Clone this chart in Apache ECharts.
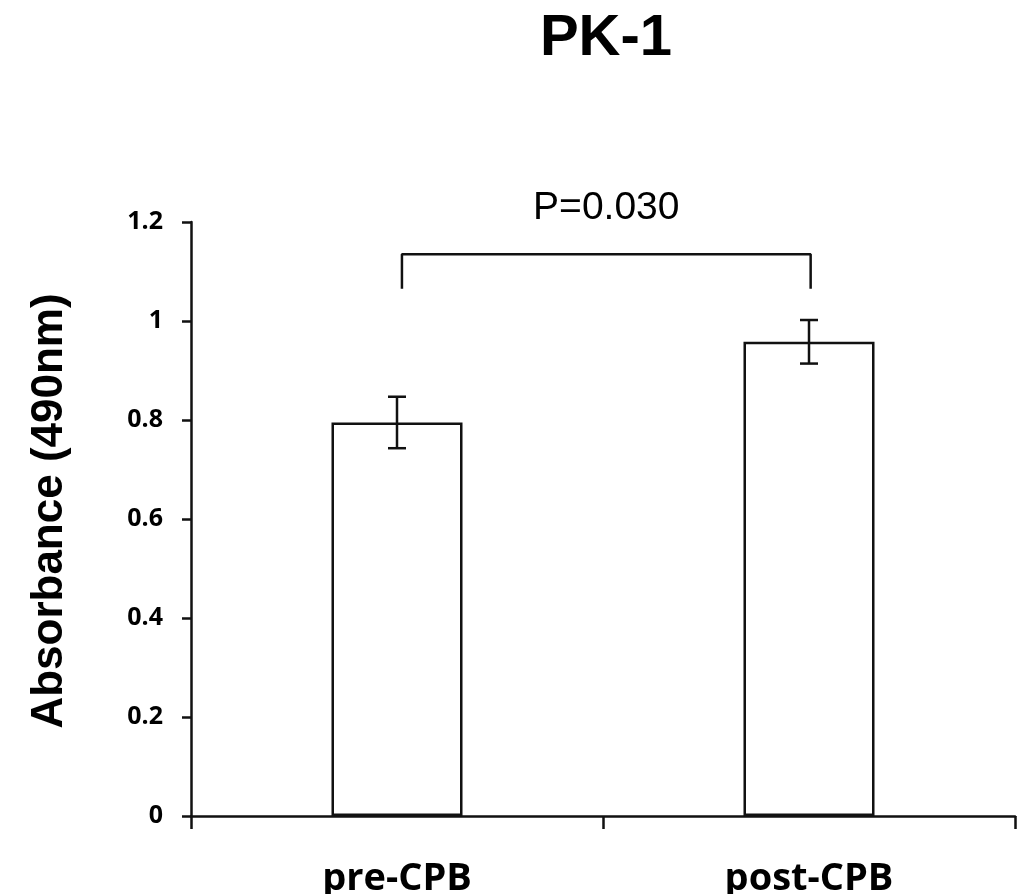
<!DOCTYPE html>
<html>
<head>
<meta charset="utf-8">
<script src="https://cdn.jsdelivr.net/npm/echarts@6/dist/echarts.min.js"></script>
<style>
  html, body { margin: 0; padding: 0; background: #fff; }
  #chart { width: 1030px; height: 894px; }
</style>
</head>
<body>
<div id="chart"></div>
<script>
// data
const categories = ['pre-CPB', 'post-CPB'];
const means = [0.795, 0.958];
const errors = [0.052, 0.044];
const yTicks = [0, 0.2, 0.4, 0.6, 0.8, 1, 1.2];
// significance bracket: [x (category index), y]
const bracketPoints = [[0.012, 1.065], [0.012, 1.135], [1.004, 1.135], [1.004, 1.065]];
const pLabel = 'P=0.030';

const ink = '#111';
const labelFont = '"Open Sans", "Liberation Sans", sans-serif';
const arial = '"Liberation Sans", Arial, sans-serif';

let myChart = echarts.init(document.getElementById('chart'));

let option = {
  animation: false,
  backgroundColor: '#fff',
  title: {
    text: 'PK-1',
    left: 601,
    textAlign: 'center',
    top: 5,
    textStyle: { fontFamily: arial, fontWeight: 'bold', fontSize: 58, color: '#000' }
  },
  grid: { left: 191, right: 15, top: 222, bottom: 78, outerBoundsMode: 'none' },
  xAxis: [
    {
      type: 'category',
      data: categories,
      boundaryGap: true,
      axisLine: { onZero: false, lineStyle: { color: ink, width: 2.5 } },
      axisTick: { show: true, alignWithLabel: false, length: 13, lineStyle: { color: ink, width: 2.5 } },
      axisLabel: { margin: 44, fontFamily: labelFont, fontWeight: 'bold', fontSize: 38, color: '#000' }
    },
    {
      // hidden value axis over the same span, used for bracket and text
      type: 'value',
      min: -0.5,
      max: 1.5,
      show: false
    }
  ],
  yAxis: {
    type: 'value',
    min: 0,
    max: 1.2,
    interval: 0.2,
    name: 'Absorbance (490nm)',
    nameLocation: 'middle',
    nameGap: 119,
    nameTextStyle: { fontFamily: arial, fontWeight: 'bold', fontSize: 44, color: '#000', padding: [0, 0, 0, 16] },
    splitLine: { show: false },
    axisLine: { show: true, onZero: false, lineStyle: { color: ink, width: 2.5 } },
    axisTick: { show: true, length: 9, lineStyle: { color: ink, width: 2.5 } },
    axisLabel: {
      margin: 28,
      fontFamily: labelFont,
      fontWeight: 'bold',
      fontSize: 25,
      color: '#000',
      formatter: v => {
        const t = yTicks.find(x => Math.abs(x - v) < 1e-6);
        return t === undefined ? '' : String(t);
      }
    }
  },
  series: [
    {
      type: 'bar',
      data: means,
      barWidth: '31.8%',
      itemStyle: { color: '#fff', borderColor: ink, borderWidth: 2.5 },
      z: 2
    },
    {
      type: 'custom',
      data: means.map((m, i) => [i, m - errors[i], m + errors[i]]),
      renderItem: function (params, api) {
        const i = api.value(0);
        const lo = api.coord([i, api.value(1)]);
        const hi = api.coord([i, api.value(2)]);
        const half = 9;
        const style = { stroke: ink, lineWidth: 2.5 };
        return {
          type: 'group',
          children: [
            { type: 'line', shape: { x1: lo[0], y1: lo[1], x2: hi[0], y2: hi[1] }, style },
            { type: 'line', shape: { x1: hi[0] - half, y1: hi[1], x2: hi[0] + half, y2: hi[1] }, style },
            { type: 'line', shape: { x1: lo[0] - half, y1: lo[1], x2: lo[0] + half, y2: lo[1] }, style }
          ]
        };
      },
      z: 3
    },
    {
      type: 'line',
      xAxisIndex: 1,
      data: bracketPoints,
      symbol: 'none',
      lineStyle: { color: ink, width: 2.5 },
      z: 3
    },
    {
      type: 'scatter',
      xAxisIndex: 1,
      data: [[(bracketPoints[1][0] + bracketPoints[2][0]) / 2, bracketPoints[1][1]]],
      symbolSize: 0,
      itemStyle: { opacity: 1 },
      label: {
        show: true,
        position: 'top',
        distance: 26,
        formatter: pLabel,
        fontFamily: arial,
        fontSize: 39,
        color: '#000',
        opacity: 1
      },
      z: 4
    }
  ]
};

myChart.setOption(option, true);

window.addEventListener('resize', () => {
  myChart.resize();
});
</script>
</body>
</html>
